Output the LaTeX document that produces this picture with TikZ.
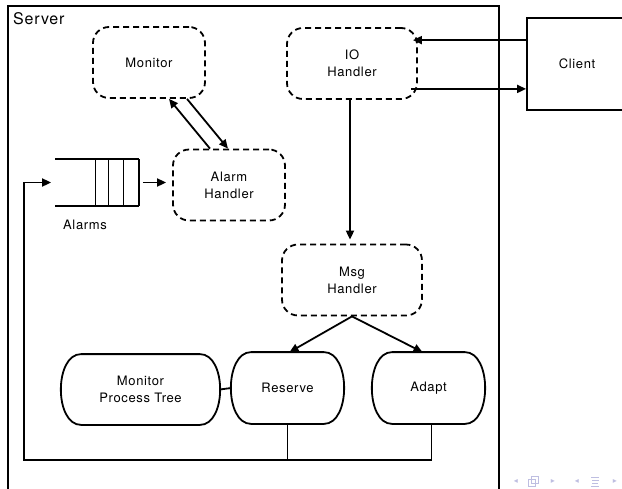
\documentclass[tikz,border=0pt]{standalone}
\usepackage{fontspec}
\setmainfont{TeX Gyre Heros}[LetterSpace=5]
\newfontfamily\navfont{DejaVu Sans}
\usetikzlibrary{arrows.meta}
\definecolor{navgray}{RGB}{190,190,225}

\begin{document}
\begin{tikzpicture}[x=1pt, y=-1pt, line width=1.8pt,
    >={Triangle[length=9pt,width=8pt]},
    font=\fontsize{13}{17}\selectfont,
    handler/.style={draw, dash pattern=on 6pt off 4pt, rounded corners=16pt, align=center, minimum width=112pt, minimum height=71pt},
    task/.style={align=center, minimum width=111pt, minimum height=70pt},
    navicon/.style={navgray, font=\navfont\fontsize{8}{8}\selectfont, inner sep=0pt}]
\useasboundingbox (0,0) rectangle (622,488);
\clip (0,0) rectangle (622,488);

% server frame, open at the bottom
\draw (8,500) |- (499,6) -- (499,500);
\node[anchor=north west, font=\fontsize{16}{18}\selectfont] (server) at (9,8) {Server};

\node[handler] (monitor) at (149,62.5) {Monitor};
\node[handler, minimum width=130pt] (io) at (352,63.5) {IO\\Handler};
\node[handler] (alarm) at (229,185) {Alarm\\Handler};
\node[handler, minimum width=140pt] (msg) at (352,280) {Msg\\Handler};
\node[draw, minimum width=100pt, minimum height=92pt] (client) at (577,64) {Client};

\node[task, minimum width=157pt, minimum height=69pt] (tree) at (140.5,389.5) {Monitor\\Process Tree};
\node[task] (reserve) at (287.5,388) {Reserve};
\node[task] (adapt) at (428.5,388) {Adapt};
% rounded ends of the tasks
\foreach \n in {tree,reserve,adapt}
    \draw ([xshift=20pt]\n.north west) -- ([xshift=-20pt]\n.north east)
        .. controls ([xshift=7pt]\n.north east) and ([xshift=7pt]\n.south east) .. ([xshift=-20pt]\n.south east)
        -- ([xshift=20pt]\n.south west)
        .. controls ([xshift=-7pt]\n.south west) and ([xshift=-7pt]\n.north west) .. cycle;

% alarm queue
\node[minimum width=82pt, minimum height=45pt, inner sep=0pt] (queue) at (97,182.5) {};
\draw (queue.north west) -- (queue.north east);
\draw (queue.south west) -- (queue.south east);
\foreach \dx in {0,15.5,30.5,43.5}
    \draw ([xshift=-\dx pt]queue.north east) -- ([xshift=-\dx pt]queue.south east);
\node (alarms) at (85,225) {Alarms};

\draw[->, shorten <=4pt, shorten >=6pt] (queue.east) -- (queue.east -| alarm.west);
\draw[->] ([xshift=-19pt]alarm.north) -- ([xshift=20pt]monitor.south);
\draw[->] ([xshift=38pt]monitor.south) -- ([xshift=-1pt]alarm.north);

\coordinate (cin) at ([yshift=-23pt]client.north west);
\coordinate (iout) at ([yshift=11pt]io.south east);
\draw[->, shorten >=-5pt] (cin) -- (cin -| io.east);
\draw[->, shorten <=-7pt] (iout) -- (iout -| client.west);
\draw[->, shorten >=4pt] ([xshift=-2pt]io.south) -- ([xshift=-2pt]msg.north);

\draw[->] (msg.south) -- ([xshift=2pt]reserve.north);
\draw[->] (msg.south) -- ([xshift=-6pt]adapt.north);
\draw (tree.east) -- (reserve.west);

% feedback to the queue
\coordinate (fb) at (24,460);
\draw (reserve.south) -- (reserve.south |- fb);
\draw[->, shorten >=4pt] ([xshift=3pt]adapt.south) |- (fb) |- (queue.west);

% navigation symbols
\node[navicon] (prevf) at (516,481) {◂};
\draw[navgray, line width=0.7pt] (528,479) rectangle (535,486) (531,476) rectangle (538,483);
\node[navicon] (nextf) at (553,481) {▸};
\node[navicon] (prevs) at (577,481) {◂};
\draw[navgray, line width=0.7pt] (591,477) -- (599,477) (592,480) -- (599,480) (592,483) -- (598,483) (591,486) -- (599,486);
\node[navicon] (nexts) at (615,481) {▸};
\end{tikzpicture}
\end{document}
